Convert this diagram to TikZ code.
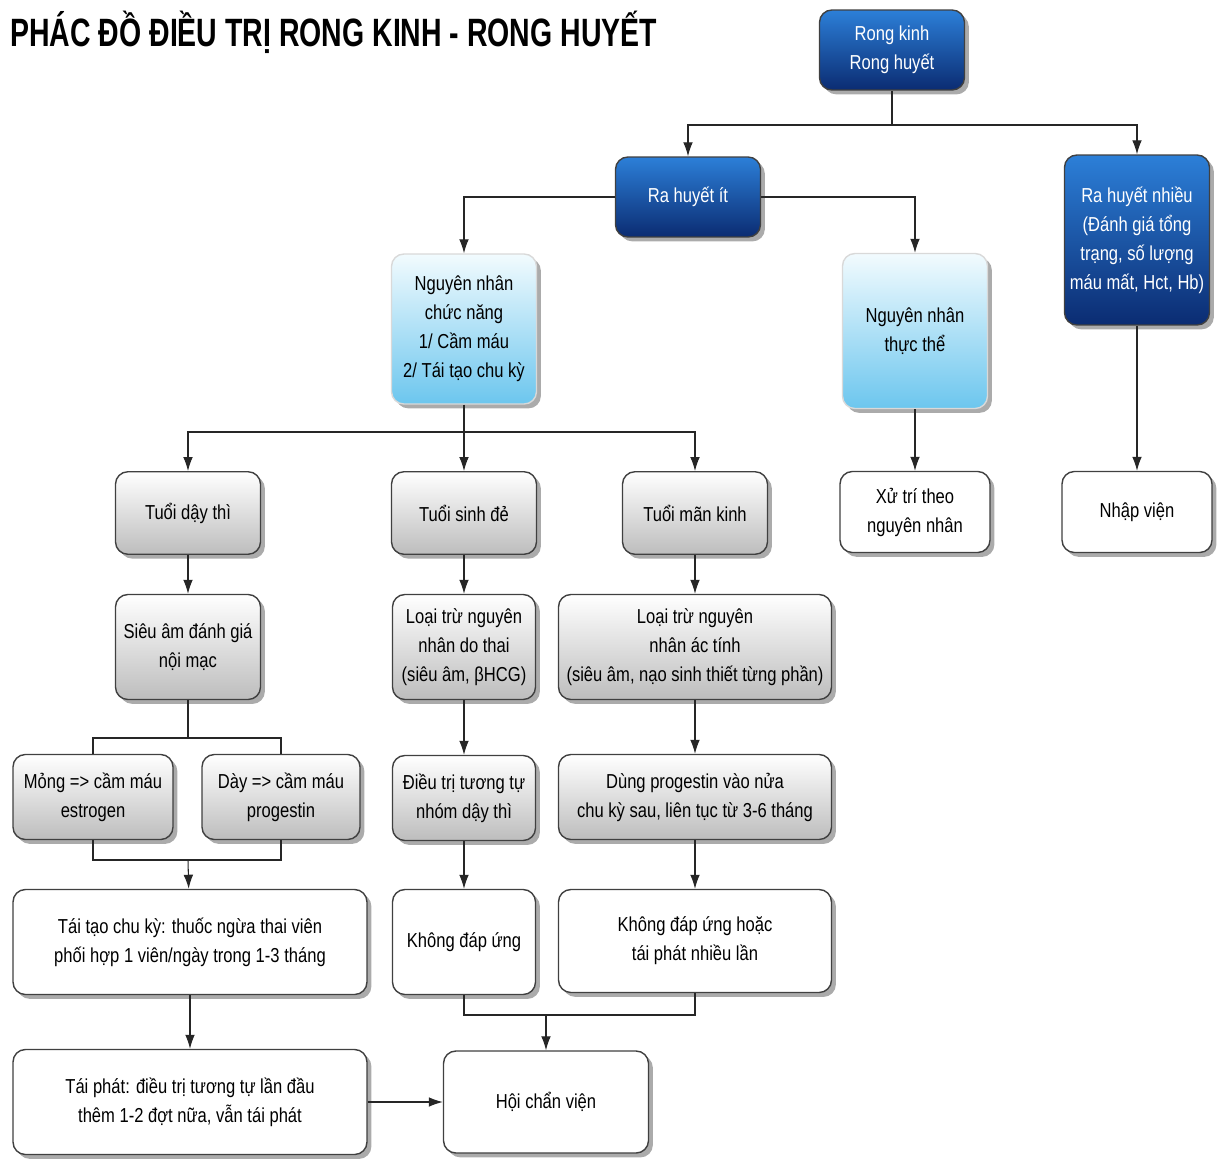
\documentclass[tikz,border=0pt]{standalone}
\usepackage{fontspec}
\setmainfont[FakeStretch=0.82]{Liberation Sans}
\newfontfamily\titlefont[FakeStretch=0.72]{Liberation Sans}
\usetikzlibrary{arrows.meta,shadows}
\definecolor{bluetop}{HTML}{2C7FD8}
\definecolor{bluebot}{HTML}{0B2C72}
\definecolor{skytop}{HTML}{F2FBFE}
\definecolor{skybot}{HTML}{6CC6EE}
\definecolor{greybot}{HTML}{BDBDBD}

\begin{document}
\begin{tikzpicture}[x=0.02cm,y=-0.02cm]
\tikzset{box/.style = {draw=black!75, line width=0.8pt, rounded corners=7pt,
		align=center, inner sep=2pt, font=\fontsize{11.5}{16.5}\selectfont,
		drop shadow={shadow xshift=2.5pt, shadow yshift=-2.5pt, fill=black!60, opacity=0.55}}}
\tikzset{darkbox/.style = {box, top color=bluetop, bottom color=bluebot, text=white}}
\tikzset{skybox/.style = {box, draw=white!85!black, top color=skytop, bottom color=skybot}}
\tikzset{greybox/.style = {box, top color=white, bottom color=greybot}}
\tikzset{whitebox/.style = {box, fill=white}}
\tikzset{edge/.style = {->,> = {Latex[length=8pt,width=5.5pt]}, line width=0.6pt, draw=black!85}}
\useasboundingbox (0,0) rectangle (1225,1160);
% title
\node[anchor=west, inner sep=0pt] (w) at (10,32) {\titlefont\bfseries\fontsize{22.5}{26}\selectfont PHÁC ĐỒ ĐIỀU TRỊ RONG KINH - RONG HUYẾT};
% blocks
\node[darkbox, minimum width=2.9cm, minimum height=1.6cm] (a) at (892,50) {Rong kinh\\Rong huyết};
\node[darkbox, minimum width=2.9cm, minimum height=1.6cm] (b) at (688,197) {Ra huyết ít};
\node[darkbox, minimum width=2.9cm, minimum height=3.4cm] (c) at (1137,240) {Ra huyết nhiều\\(Đánh giá tổng\\trạng, số lượng\\máu mất, Hct, Hb)};
\node[skybox, minimum width=2.9cm, minimum height=3.0cm] (d) at (464,329) {Nguyên nhân\\chức năng\\1/ Cầm máu\\2/ Tái tạo chu kỳ};
\node[skybox, minimum width=2.9cm, minimum height=3.1cm] (e) at (915,331) {Nguyên nhân\\thực thể};
\node[greybox, minimum width=2.9cm, minimum height=1.65cm] (f) at (188,513) {Tuổi dậy thì};
\node[greybox, minimum width=2.9cm, minimum height=1.65cm] (g) at (464,513) {Tuổi sinh đẻ};
\node[greybox, minimum width=2.9cm, minimum height=1.65cm] (h) at (695,513) {Tuổi mãn kinh};
\node[whitebox, minimum width=3.0cm, minimum height=1.62cm] (i) at (915,512) {Xử trí theo\\nguyên nhân};
\node[whitebox, minimum width=3.0cm, minimum height=1.62cm] (j) at (1137,512) {Nhập viện};
\node[greybox, minimum width=2.9cm, minimum height=2.1cm] (k) at (188,647) {Siêu âm đánh giá\\nội mạc};
\node[greybox, minimum width=2.86cm, minimum height=2.1cm] (l) at (464,647) {Loại trừ nguyên\\nhân do thai\\(siêu âm, βHCG)};
\node[greybox, minimum width=5.46cm, minimum height=2.1cm] (m) at (695,647) {Loại trừ nguyên\\nhân ác tính\\(siêu âm, nạo sinh thiết từng phần)};
\node[greybox, minimum width=3.2cm, minimum height=1.7cm] (n) at (93,797) {Mỏng => cầm máu\\estrogen};
\node[greybox, minimum width=3.16cm, minimum height=1.7cm] (o) at (281,797) {Dày => cầm máu\\progestin};
\node[greybox, minimum width=2.86cm, minimum height=1.7cm] (p) at (464,798) {Điều trị tương tự\\nhóm dậy thì};
\node[greybox, minimum width=5.46cm, minimum height=1.7cm] (q) at (695,797) {Dùng progestin vào nửa\\chu kỳ sau, liên tục từ 3-6 tháng};
\node[whitebox, minimum width=7.08cm, minimum height=2.1cm] (r) at (190,942) {Tái tạo chu kỳ: thuốc ngừa thai viên\\phối hợp 1 viên/ngày trong 1-3 tháng};
\node[whitebox, minimum width=2.86cm, minimum height=2.1cm] (s) at (464,942) {Không đáp ứng};
\node[whitebox, minimum width=5.46cm, minimum height=2.06cm] (t) at (695,941) {Không đáp ứng hoặc\\tái phát nhiều lần};
\node[whitebox, minimum width=7.08cm, minimum height=2.1cm] (u) at (190,1102) {Tái phát: điều trị tương tự lần đầu\\thêm 1-2 đợt nữa, vẫn tái phát};
\node[whitebox, minimum width=4.1cm, minimum height=2.04cm] (v) at (546,1102) {Hội chẩn viện};
% joints
\coordinate (a1) at (892,125);
\coordinate (d1) at (464,432);
\coordinate (k1) at (188,738);
\coordinate (n1) at (188,860);
\coordinate (s1) at (546,1015);
% edges
\draw[edge] (a.south) -- (a1) -| (b.north);
\draw[edge] (a1) -| (c.north);
\draw[edge] (b.west) -| (d.north);
\draw[edge] (b.east) -| (e.north);
\draw[edge] (c) to (j);
\draw[edge] (e) to (i);
\draw[edge] (d.south) -- (d1) -| (f.north);
\draw[edge] (d1) -| (h.north);
\draw[edge] (d1) to (g);
\draw[edge] (f) to (k);
\draw[edge] (g) to (l);
\draw[edge] (h) to (m);
\draw[black!85, line width=0.6pt] (k.south) -- (k1) -| (n.north);
\draw[black!85, line width=0.6pt] (k1) -| (o.north);
\draw[black!85, line width=0.6pt] (n.south) |- (n1) -| (o.south);
\draw[edge] (n1) to (r);
\draw[edge] (r) to (u);
\draw[edge] (u) to (v);
\draw[edge] (l) to (p);
\draw[edge] (p) to (s);
\draw[edge] (m) to (q);
\draw[edge] (q) to (t);
\draw[black!85, line width=0.6pt] (s.south) |- (s1) -| (t.south);
\draw[edge] (s1) to (v);
\end{tikzpicture}
\end{document}
